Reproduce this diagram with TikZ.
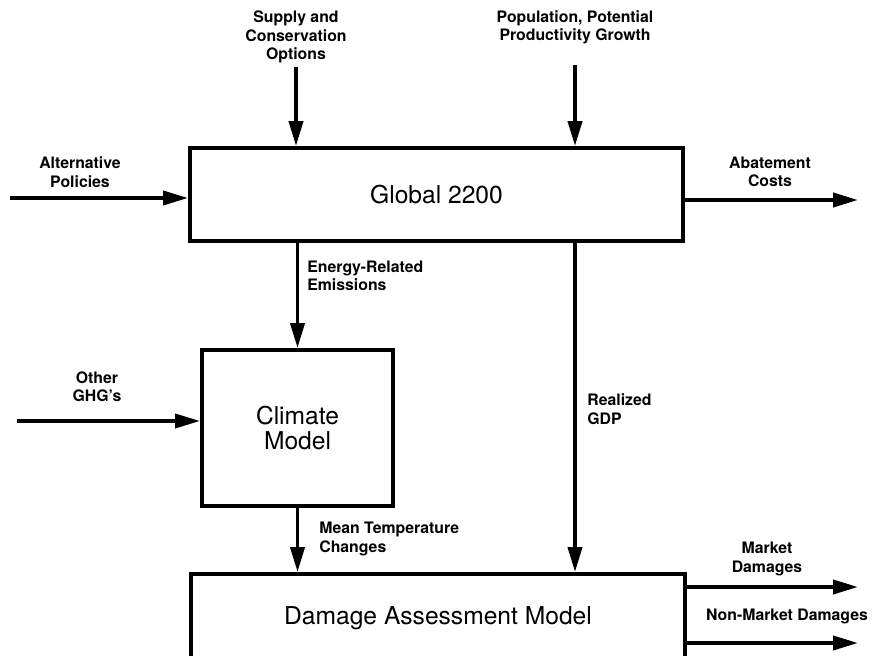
\documentclass[tikz,border=0pt]{standalone}
\usepackage{fontspec}
\setmainfont{TeX Gyre Heros}
\usetikzlibrary{arrows.meta}

\tikzset{
	model/.style={draw, line width=2.2pt, font=\fontsize{14}{14.2}\selectfont, align=center, inner sep=0pt},
	lbl/.style={font=\fontsize{9}{10.5}\selectfont\bfseries, align=center, inner sep=0pt},
	lbll/.style={lbl, align=left, anchor=west},
	flow/.style={->, line width=2.2pt}
}

\begin{document}
\begin{tikzpicture}[>={Triangle[length=5mm,width=2.8mm]}]
		%\draw [help lines] (0,0) grid (17.5,13.1);
		\useasboundingbox (0,0) rectangle (17.5,13.1);
		\clip (0,0) rectangle (17.5,13.1);
		
		% Modelli
		\node [model, minimum width=9.86cm, minimum height=1.86cm] (global) at (8.73,9.21) {Global 2200};
		\node [model, minimum width=3.82cm, minimum height=3.12cm] (climate) at (5.95,4.54) {Climate\\Model};
		\node [model, minimum width=9.88cm, minimum height=1.76cm] (damage) at (8.76,0.74) {Damage Assessment Model};
		
		% Ingressi
		\coordinate (supply) at (5.92,11.76);
		\coordinate (pop) at (11.5,11.8);
		\coordinate (alt) at (0.2,9.14);
		\coordinate (ghg) at (0.34,4.68);
		\node [lbl] (supplylbl) at (5.92,12.36) {Supply and\\Conservation\\Options};
		\node [lbl] (poplbl) at (11.5,12.55) {Population, Potential\\Productivity Growth};
		\node [lbl] (altlbl) at (1.6,9.66) {Alternative\\Policies};
		\node [lbl] (ghglbl) at (1.94,5.36) {Other\\GHG's};
		\draw [flow] (supply) -- (supply |- global.north);
		\draw [flow] (pop) -- (pop |- global.north);
		\draw [flow] (alt) -- (alt -| global.west);
		\draw [flow] (ghg) -- (ghg -| climate.west);
		
		% Collegamenti
		\draw [flow] (global.south -| climate.north) -- (climate.north);
		\node [lbll] (emislbl) at (6.14,7.58) {Energy-Related\\Emissions};
		\draw [flow] (climate.south) -- (climate.south |- damage.north);
		\node [lbll] (templbl) at (6.38,2.32) {Mean Temperature\\Changes};
		\draw [flow] (global.south -| pop) -- (damage.north -| pop);
		\node [lbll] (gdplbl) at (11.74,4.92) {Realized\\GDP};
		
		% Uscite
		\coordinate (abat) at (17.16,9.1);
		\coordinate (market) at (17.16,1.36);
		\coordinate (nonmarket) at (17.16,0.24);
		\draw [flow] (abat -| global.east) -- (abat);
		\draw [flow] (market -| damage.east) -- (market);
		\draw [flow] (nonmarket -| damage.east) -- (nonmarket);
		\node [lbl] (abatlbl) at (15.4,9.66) {Abatement\\Costs};
		\node [lbl] (marketlbl) at (15.34,1.92) {Market\\Damages};
		\node [lbl] (nonmarketlbl) at (15.74,0.78) {Non-Market Damages};
	\end{tikzpicture}
\end{document}
